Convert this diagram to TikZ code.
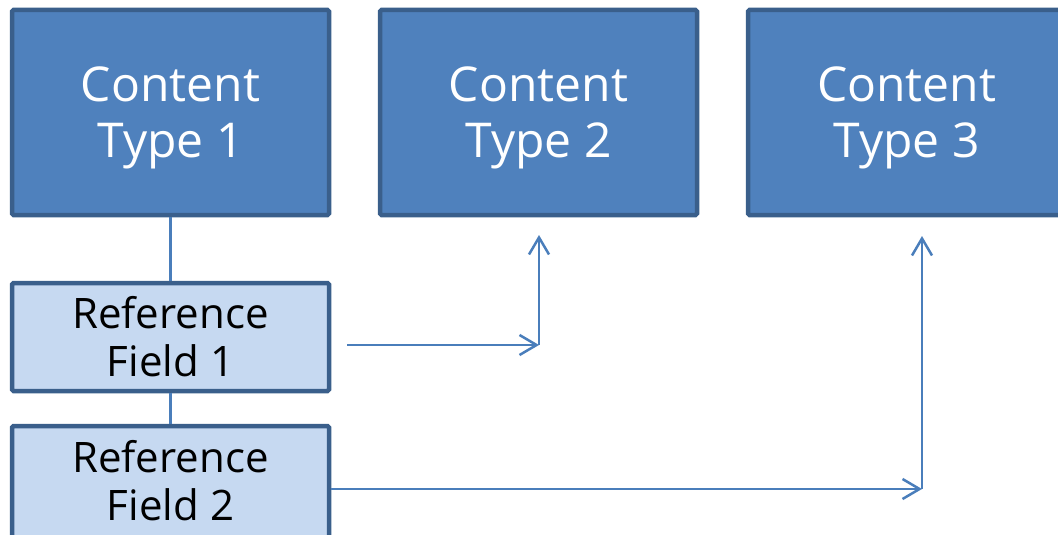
\documentclass[tikz,border=0pt]{standalone}
\usepackage{fontspec}
\setmainfont{Open Sans}
\usetikzlibrary{arrows.meta}
\definecolor{darkfill}{HTML}{4F81BD}
\definecolor{boxborder}{HTML}{3A5F8B}
\definecolor{lightfill}{HTML}{C6D9F1}
\definecolor{linkblue}{HTML}{4A7EBB}
\begin{document}
\begin{tikzpicture}[x=1pt,y=-1pt,
  ctbox/.style={draw=boxborder, fill=darkfill, line width=4.5pt, rounded corners=1.5pt,
    minimum width=317pt, minimum height=205pt, inner sep=0pt, text=white, align=center,
    font=\fontsize{48}{56}\selectfont, text depth=1pt},
  rfbox/.style={draw=boxborder, fill=lightfill, line width=4.5pt, rounded corners=1.5pt,
    minimum width=317pt, minimum height=108pt, inner sep=0pt, text=black, align=center,
    font=\fontsize{42}{48}\selectfont},
  link/.style={draw=linkblue, line width=2.5pt},
  arr/.style={link, -{Straight Barb[length=17pt,width=20pt]}}]
\useasboundingbox (0,0) rectangle (1058,535);
\clip (0,0) rectangle (1058,535);
\node[ctbox] (ct1) at (170.5,112.5) {Content\\Type 1};
\node[ctbox] (ct2) at (538.5,112.5) {Content\\Type 2};
\node[ctbox] (ct3) at (906.5,112.5) {Content\\Type 3};
\node[rfbox] (rf1) at (170.5,337) {Reference\\Field 1};
\node[rfbox, minimum height=124pt, text depth=16pt] (rf2) at (170.5,488) {Reference\\Field 2};
\draw[link] (ct1.south) -- (rf1.north);
\draw[link] (rf1.south) -- (rf2.north);
\coordinate (a1s) at (347,345);
\coordinate (a1c) at (539,345);
\coordinate (a1e) at (539,235);
\coordinate (a2s) at (331,489);
\coordinate (a2c) at (922,489);
\coordinate (a2e) at (922,236);
\draw[arr] (a1s) -- (a1c);
\draw[arr] (a1c) -- (a1e);
\draw[arr] (a2s) -- (a2c);
\draw[arr] (a2c) -- (a2e);
\end{tikzpicture}
\end{document}
